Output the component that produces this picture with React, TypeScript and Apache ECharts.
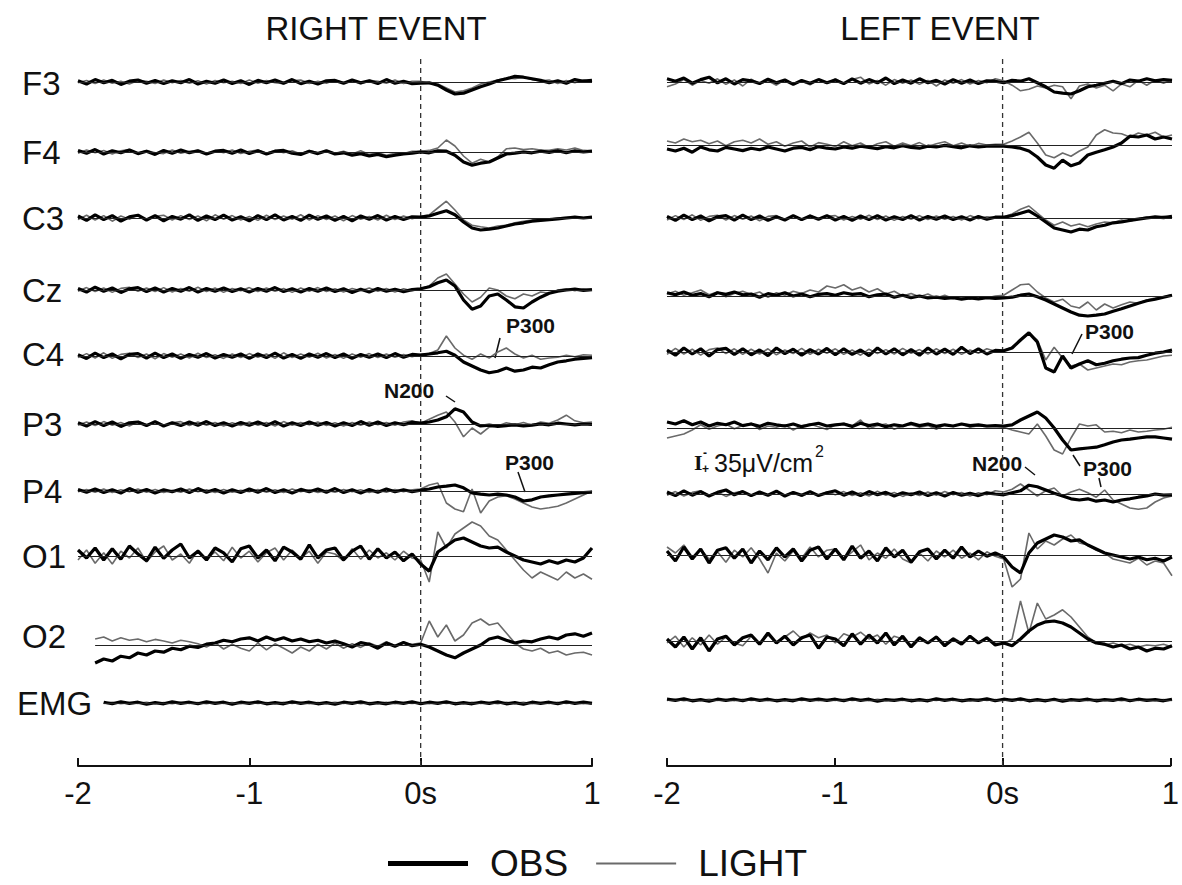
import React, { useEffect, useRef } from "react";
import * as echarts from "echarts";

// ---------- DATA ----------
const TIME = [
  -2, -1.95, -1.9, -1.85, -1.8, -1.75, -1.7, -1.65, -1.6, -1.55,
  -1.5, -1.45, -1.4, -1.35, -1.3, -1.25, -1.2, -1.15, -1.1, -1.05,
  -1, -0.95, -0.9, -0.85, -0.8, -0.75, -0.7, -0.65, -0.6, -0.55,
  -0.5, -0.45, -0.4, -0.35, -0.3, -0.25, -0.2, -0.15, -0.1, -0.05,
  0, 0.05, 0.1, 0.15, 0.2, 0.25, 0.3, 0.35, 0.4, 0.45,
  0.5, 0.55, 0.6, 0.65, 0.7, 0.75, 0.8, 0.85, 0.9, 0.95, 1,
];
const CHANNELS = ["F3", "F4", "C3", "Cz", "C4", "P3", "P4", "O1", "O2", "EMG"];
const X_TICKS = [-2, -1, 0, 1];
const EVENT_T = 0;
const TITLES = ["RIGHT EVENT", "LEFT EVENT"];
const LEGEND = ["OBS", "LIGHT"];

// RIGHT EVENT panel (µV)
const R_F3_OBS = [3,-5,6,-2,4,-6,2,5,-3,4, -4,3,-2,6,-5,2,-3,5,-4,3, -6,4,-2,5,-3,6,-4,2,-5,3, 4,-3,5,-2,3,-4,6,-3,2,-4,
  -3,-2,-8,-20,-30,-28,-20,-12,-5,3, 8,14,12,8,4,-2,3,-3,6,2,4];
const R_F3_LIGHT = [-2,4,-4,5,-3,2,-5,4,2,-4, 5,-2,4,-3,3,-5,4,-2,2,-4, 5,-3,4,-2,-4,3,5,-4,2,-3, 5,-2,3,-5,4,2,-3,5,-4,2,
  2,-4,-5,-15,-25,-22,-15,-5,0,5, 10,8,12,6,3,5,-4,4,-2,5,2];
const R_F4_OBS = [4,-3,6,-5,3,-2,5,-4,2,-6, 4,-3,5,-2,3,-5,2,4,-3,5, -4,3,-5,2,4,-3,-6,2,-4,3, -5,-2,-8,-4,-10,-6,-12,-8,-5,-3,
  0,-2,3,2,-8,-25,-33,-28,-25,-15, -5,-3,0,-2,2,-1,3,-2,3,0,2];
const R_F4_LIGHT = [-3,5,-2,4,-5,3,6,-3,4,-2, -4,5,-3,2,4,-5,3,-2,5,-4, 2,5,-3,4,-2,3,-5,4,-2,3, -3,2,-5,3,-6,-2,-8,-3,-4,2,
  2,4,10,30,15,-10,-28,-18,-25,-12, 8,10,6,8,5,4,8,5,10,4,3];
const R_C3_OBS = [5,-6,8,-4,6,-8,3,7,-5,6, -7,4,-3,8,-6,5,-4,7,-5,3, -7,6,-4,8,-5,4,-6,7,-3,5, -6,4,-7,5,-3,6,-5,4,-4,3,
  2,5,12,18,8,-10,-25,-30,-28,-25, -20,-15,-12,-8,-6,-4,-2,0,2,0,2];
const R_C3_LIGHT = [-4,7,-5,6,-8,5,-3,8,-6,4, 7,-5,6,-4,5,-7,8,-3,6,-5, 4,-6,7,-4,5,-3,8,-5,6,-4, 5,-7,6,-3,4,-5,7,-4,5,-2,
  4,8,25,42,20,-5,-18,-22,-25,-20, -18,-12,-8,-5,-2,-3,0,2,3,1,3];
const R_CZ_OBS = [4,-5,7,-3,5,-6,3,6,-4,5, -5,4,-3,6,-5,4,-3,5,-4,3, -5,4,-3,6,-4,3,-5,4,-3,5, -4,3,-6,2,-5,4,-3,2,-4,1,
  3,8,18,25,10,-25,-48,-40,-15,-10, -25,-42,-45,-30,-18,-8,-3,0,2,-1,1];
const R_CZ_LIGHT = [-3,6,-4,5,-6,4,7,-3,5,-4, 6,-5,4,-3,7,-4,5,-6,4,-2, 6,-4,5,-3,4,-6,5,-3,6,-4, 3,-5,4,-2,5,-3,4,-5,3,-2,
  4,10,30,40,15,-10,-30,-18,5,0, -15,-22,-10,-15,-5,-8,0,3,-2,3,0];
const R_C4_OBS = [3,-6,7,-4,5,-7,4,6,-5,7, -4,5,-6,4,-3,6,-5,4,-3,5, -6,5,-4,7,-5,4,-6,5,-3,6, -4,5,-6,4,-3,5,-4,6,-3,4,
  2,5,8,12,2,-15,-25,-35,-42,-38, -30,-38,-35,-28,-30,-22,-15,-12,-8,-6,-4];
const R_C4_LIGHT = [-4,6,-5,8,-6,4,7,-4,5,-7, 6,-3,5,-5,7,-4,3,-6,5,-4, 6,-3,5,-6,8,-4,5,-3,7,-5, 4,-6,5,-3,6,-4,5,-3,4,-2,
  4,6,15,50,20,2,-8,5,-5,10, 20,5,-5,2,-8,-5,-3,2,-2,3,2];
const R_P3_OBS = [3,-5,6,-4,5,-6,3,5,-4,6, -5,3,-4,5,-3,6,-4,3,-5,4, -3,5,-4,6,-5,3,-4,5,-3,4, -5,3,-4,6,-3,5,-4,3,-2,4,
  2,5,10,18,38,30,5,-5,-3,-6, -4,-2,-5,-3,0,-2,2,0,-2,0,-1];
const R_P3_LIGHT = [-3,5,-4,6,-3,4,-5,6,-2,4, -5,3,6,-4,5,-3,4,-5,3,-4, 5,-3,4,-5,6,-3,4,-2,5,-4, 3,-5,4,-3,5,-2,4,-3,5,8,
  2,12,22,30,5,-32,-10,-25,-8,-5, 3,-2,4,-3,5,2,10,22,8,3,5];
const R_P4_OBS = [4,-3,5,-4,3,-5,6,-3,4,-5, 3,-2,5,-4,6,-3,4,-5,3,-4, 5,-3,6,-4,3,-5,4,-2,5,-3, 6,-4,3,-5,4,-3,5,-2,3,-2,
  2,5,10,12,15,8,-5,-8,-10,-8, -10,-15,-25,-22,-15,-12,-10,-8,-6,-4,-3];
const R_P4_LIGHT = [-2,4,-3,5,-4,3,-2,5,-3,4, -4,2,-3,5,-2,3,-4,4,-3,2, -2,4,-3,3,-4,5,-2,3,-4,2, -3,4,-2,3,-4,2,-3,4,-2,3,
  5,15,20,-30,-45,-52,5,-55,-25,-15, -12,-20,-30,-40,-45,-42,-38,-30,-20,-10,0];
const R_O1_OBS = [15,-5,20,-10,18,-8,25,5,-12,22, -6,15,30,-5,12,-10,20,8,-15,18, 25,-5,15,-12,22,10,-8,28,-5,15, 20,-10,12,25,-8,18,-5,10,-12,5,
  -20,-38,10,25,40,45,35,25,20,22, 10,0,-10,-15,-20,-12,-18,-10,-15,-5,20];
const R_O1_LIGHT = [-10,15,-18,8,-20,12,-5,20,-15,10, 25,-10,5,-18,15,-8,10,-12,22,-5, 12,-15,8,20,-10,15,-5,12,-18,10, 5,-12,18,-8,15,-5,8,-10,12,-5,
  -10,-65,60,20,55,70,85,75,50,40, 15,-10,-35,-55,-40,-50,-60,-40,-55,-45,-58];
const R_O2_OBS = [null,null,-45,-35,-40,-28,-32,-20,-25,-15, -18,-8,-12,-3,-6,2,5,12,8,15, 18,10,20,12,18,10,15,8,12,5, 10,3,-5,6,2,-8,5,-3,6,-2,
  2,-5,-15,-25,-32,-20,-10,0,15,20, 12,5,10,8,15,20,15,25,28,22,30];
const R_O2_LIGHT = [null,null,15,20,10,18,12,15,8,14, 10,5,12,8,3,-5,6,-10,2,-8, -15,5,-12,3,-8,-20,-5,-15,2,-10, 5,-8,3,-6,5,-3,8,-2,5,2,
  5,60,20,50,10,25,55,65,50,55, 30,5,-10,-15,-8,-20,-15,-25,-20,-18,-25];
const R_EMG_OBS = [null,null,null,2,-2,3,-1,2,-3,1, -2,3,-1,2,-2,3,-1,2,-3,2, -1,3,-2,1,-2,3,-1,2,-2,1, -3,2,-1,3,-2,1,-2,2,-1,3,
  -2,2,-1,3,-2,1,-2,2,-1,3, -2,1,-3,2,-1,2,-2,3,-1,2,-1];
const R_EMG_LIGHT = [null,null,null,-1,2,-2,1,-1,2,-2, 1,-2,2,-1,1,-2,2,-1,1,-2, 2,-1,1,-2,2,-1,2,-2,1,-1, 2,-1,2,-2,1,-1,2,-2,1,-1,
  1,-2,2,-1,1,-2,2,-1,1,-2, 2,-1,2,-2,1,-1,2,-1,1,-2,1];

// LEFT EVENT panel (µV)
const L_F3_OBS = [8,2,10,-3,6,12,-2,8,-5,6, 3,-4,7,-2,5,-6,4,-3,6,-2, 5,-4,8,-3,6,-2,10,-4,5,-3, 8,-2,4,-5,6,-3,5,-4,3,2,
  -2,4,2,8,-2,-12,-25,-28,-30,-22, -12,-8,-3,2,-4,5,2,8,3,6,4];
const L_F3_LIGHT = [-12,-5,6,-8,4,-3,8,-6,5,-10, 7,-4,3,-8,6,-5,2,-7,5,-3, 8,-4,6,12,-5,4,-8,6,-3,5, -6,4,-10,5,-3,6,-5,4,-2,8,
  3,-8,-22,-18,-10,-15,-8,-12,-42,-10, -5,-15,-8,-22,-5,-12,4,-8,5,-3,6];
const L_F4_OBS = [-10,-15,-8,-18,-5,-12,-15,-6,-10,-14, -8,-12,-5,-10,-15,-8,-6,-12,-4,-8, -10,-5,-8,-3,-6,-9,-4,-7,-2,-6, -8,-3,-5,-1,-4,-7,-2,-5,-3,-2,
  -3,-5,-8,-15,-30,-50,-58,-38,-52,-45, -25,-18,-12,-5,5,22,20,25,15,20,15];
const L_F4_LIGHT = [10,5,15,8,12,3,10,-2,8,12, 5,15,2,8,-3,5,10,-5,6,2, -4,8,-2,5,-6,3,8,-3,5,-2, 6,-4,3,8,-2,5,-3,4,0,2,
  2,10,20,32,5,-25,-32,-20,-28,-15, -5,25,38,30,28,20,30,25,32,20,25];
const L_C3_OBS = [4,-6,7,-4,5,-7,3,6,-5,7, -4,5,-6,3,-5,6,-4,5,-3,6, -5,4,-6,5,-4,6,-5,3,-4,6, -5,4,-3,5,-4,3,-5,4,-3,2,
  2,6,12,18,5,-10,-25,-30,-35,-28, -30,-22,-18,-12,-10,-6,-3,0,3,1,4];
const L_C3_LIGHT = [-5,6,-4,8,-6,4,7,-5,6,-3, 5,-7,4,6,-4,5,-6,7,-3,4, 6,-5,4,-3,7,-4,5,-6,4,-3, 6,-4,5,-3,4,-5,6,-2,3,1,
  3,10,22,30,12,-5,-18,-10,-20,-15, -22,-15,-10,-12,-5,-8,-2,3,0,4,2];
const L_CZ_OBS = [8,3,10,2,6,-2,8,4,10,3, 5,-3,6,2,8,0,5,-2,4,6, 2,8,4,6,-2,3,5,-3,2,-4, 0,-5,-3,-6,-4,-8,-5,-7,-4,-6,
  -5,-3,2,5,-2,-10,-20,-30,-40,-48, -50,-48,-45,-38,-32,-25,-18,-12,-8,-3,2];
const L_CZ_LIGHT = [5,12,2,8,15,3,10,-2,6,12, 4,10,-3,8,2,12,6,15,10,25, 20,28,15,22,10,18,5,12,0,6, -2,5,-5,2,-6,-3,-8,-2,-5,0,
  2,15,28,30,10,-5,-15,-8,-25,-30, -15,-35,-20,-30,-22,-15,-18,-10,-5,-2,3];
const L_C4_OBS = [5,-8,10,-5,8,-10,6,9,-6,8, -7,5,-9,10,-4,7,-8,6,-5,9, -7,8,-6,5,-9,10,-5,8,-7,6, -8,10,-5,7,-6,12,-4,8,-5,4,
  3,10,30,48,25,-40,-50,-10,-40,-30, -22,-32,-28,-22,-18,-15,-14,-8,-3,0,5];
const L_C4_LIGHT = [-6,9,-5,7,-8,6,10,-4,8,-6, 7,-5,8,-7,5,-4,9,-6,7,-3, 8,-6,5,-8,7,-4,6,-5,9,-3, 6,-5,8,-4,7,-6,5,-3,8,2,
  4,12,28,48,30,-20,12,-15,-35,-30, -45,-40,-35,-30,-32,-25,-22,-20,-15,-10,-8];
const L_P3_OBS = [15,10,18,8,15,5,12,8,15,6, 10,4,12,8,5,10,3,8,12,5, 8,10,4,12,6,10,3,8,5,12, 6,10,4,8,5,10,6,8,5,6,
  5,8,20,30,40,25,0,-30,-55,-52, -50,-48,-42,-35,-30,-28,-25,-22,-22,-25,-28];
const L_P3_LIGHT = [-25,-20,-15,-5,8,-3,5,10,-2,6, 12,-4,5,2,8,-5,6,10,3,-4, 8,12,5,20,-2,6,10,-3,5,8, 2,6,-3,8,4,10,2,6,3,5,
  2,-5,-10,-15,10,-20,-55,-65,-25,10, 5,8,-10,-8,-12,-5,-10,-8,-5,-3,2];
const L_P4_OBS = [5,-4,8,-3,6,-5,4,10,-2,6, -4,5,-3,7,-5,4,-3,6,-4,3, 8,-3,5,-4,6,-2,4,-5,3,-2, 5,-4,3,-5,4,-3,2,-4,3,0,
  -2,3,8,22,18,10,2,-5,-12,-15, -12,-18,-15,-20,-15,-12,-8,-5,0,-3,-2];
const L_P4_LIGHT = [-3,6,-5,4,8,-4,5,-6,3,7, -5,4,-2,6,-4,5,-6,4,-3,5, -2,6,-4,3,-5,7,-3,4,-6,3, -4,5,-3,6,-2,4,-5,3,-2,8,
  5,12,25,10,-5,8,15,-5,5,12, 3,-8,10,-15,-25,-35,-38,-35,-20,-10,-5];
const L_O1_OBS = [10,-15,20,-10,15,-20,12,18,-8,15, -20,10,-12,18,-5,15,-15,12,20,-10, 15,-12,22,-8,10,-15,18,-5,12,-18, 8,15,-10,12,-8,20,-5,10,-3,5,
  -5,-30,-45,5,30,40,50,45,35,38, 25,15,5,0,-5,-10,-5,-12,-8,-15,-5];
const L_O1_LIGHT = [20,5,25,-5,15,-10,8,-18,12,-5, 18,-10,-45,5,-15,10,-8,20,-5,12, 15,-10,8,25,-12,5,-8,15,-10,-20, 5,-15,10,-5,12,-8,5,-12,8,-3,
  -10,-80,-60,55,15,35,25,40,50,30, 25,12,5,-10,-15,-20,-8,-25,-15,-20,-52];
const L_O2_OBS = [5,-15,10,-20,8,-25,5,12,-10,8, 15,-8,20,-5,12,-10,8,15,-18,10, 5,-12,18,-8,15,-5,20,-10,12,-15, 8,-5,10,-12,5,-8,12,-5,8,-10,
  -5,-12,5,25,40,48,50,45,35,20, 5,-5,-8,-15,-10,-20,-15,-25,-18,-20,-12];
const L_O2_LIGHT = [-5,12,-15,8,-10,15,-8,10,-5,-12, 12,-8,15,-5,10,25,5,20,8,15, -5,18,10,22,5,15,-8,12,5,-10, 10,-5,12,-8,8,-5,10,-2,5,-5,
  -8,5,100,20,95,55,65,78,60,35, 10,-5,-10,-5,-12,-8,-15,-10,-12,-8,-15];
const L_EMG_OBS = [2,-1,3,-2,1,-3,2,-1,2,-2, 3,-1,2,-2,1,-2,3,-1,2,-1, 2,-2,3,-1,2,-3,1,-1,2,-2, 1,-2,3,-1,2,-2,1,-1,3,-2,
  2,-1,3,-2,1,-2,2,-3,1,-1, 2,-2,1,-1,3,-2,2,-1,1,-2,2];
const L_EMG_LIGHT = [-1,2,-2,1,-1,2,-1,1,-2,2, -1,1,-2,1,-1,2,-1,2,-2,1, -1,2,-1,1,-2,2,-1,1,-1,2, -2,1,-1,2,-1,1,-2,2,-1,1,
  -1,2,-1,1,-2,1,-1,2,-1,1, -2,2,-1,1,-2,1,-1,2,-1,1,-1];

const RIGHT_EVENT_OBS = [R_F3_OBS, R_F4_OBS, R_C3_OBS, R_CZ_OBS, R_C4_OBS, R_P3_OBS, R_P4_OBS, R_O1_OBS, R_O2_OBS, R_EMG_OBS];
const RIGHT_EVENT_LIGHT = [R_F3_LIGHT, R_F4_LIGHT, R_C3_LIGHT, R_CZ_LIGHT, R_C4_LIGHT, R_P3_LIGHT, R_P4_LIGHT, R_O1_LIGHT, R_O2_LIGHT, R_EMG_LIGHT];
const LEFT_EVENT_OBS = [L_F3_OBS, L_F4_OBS, L_C3_OBS, L_CZ_OBS, L_C4_OBS, L_P3_OBS, L_P4_OBS, L_O1_OBS, L_O2_OBS, L_EMG_OBS];
const LEFT_EVENT_LIGHT = [L_F3_LIGHT, L_F4_LIGHT, L_C3_LIGHT, L_CZ_LIGHT, L_C4_LIGHT, L_P3_LIGHT, L_P4_LIGHT, L_O1_LIGHT, L_O2_LIGHT, L_EMG_LIGHT];

// ---------- LAYOUT ----------
const FONT = "'Liberation Sans', Arial, Helvetica, sans-serif";
const OBS_COLOR = "#000";
const LIGHT_COLOR = "#6a6a6a";
const PANELS = [
  { left: 78, width: 514, titleX: 376, base: [82, 152, 218, 290, 356, 424, 491, 556, 645, 703], obs: RIGHT_EVENT_OBS, light: RIGHT_EVENT_LIGHT },
  { left: 667, width: 505, titleX: 940, base: [82, 145, 218, 296, 352, 428, 494, 555, 641, 700], obs: LEFT_EVENT_OBS, light: LEFT_EVENT_LIGHT },
];
const LABEL_Y = [83, 152, 218, 290, 354, 424, 491, 556, 636, 703];
const CH_H = 120; // px, spans ±150 µV
const Y_RANGE = 150;
const AXIS_TOP = 58;
const AXIS_Y = 766;
// legend line icons: a horizontal band inside an 80x30 box (thick for OBS, thin for LIGHT)
const ICON_THICK = "path://M0,12.5H80V17.5H0Z M0,0H0.01V0.01H0Z M0,29.99H0.01V30H0Z";
const ICON_THIN = "path://M0,14H80V16H0Z M0,0H0.01V0.01H0Z M0,29.99H0.01V30H0Z";

function pairs(vals: (number | null)[]) {
  return TIME.map((t, i) => [t, vals[i] == null ? "-" : vals[i]]);
}
function firstTime(vals: (number | null)[]) {
  const i = vals.findIndex((v) => v != null);
  return TIME[i < 0 ? 0 : i];
}

function buildOption() {
  const grid: any[] = [];
  const xAxis: any[] = [];
  const yAxis: any[] = [];
  const series: any[] = [];
  const xMin = X_TICKS[0];
  const xMax = X_TICKS[X_TICKS.length - 1];

  PANELS.forEach((p) => {
    const gi = grid.length;
    grid.push({ left: p.left, width: p.width, top: AXIS_TOP, height: AXIS_Y - AXIS_TOP });
    xAxis.push({
      gridIndex: gi, type: "value", min: xMin, max: xMax, interval: 1,
      axisLine: { show: true, lineStyle: { color: "#111", width: 2 } },
      axisTick: { show: true, inside: true, length: 8, lineStyle: { color: "#111", width: 2 } },
      axisLabel: { fontSize: 31, color: "#111", fontFamily: FONT, margin: 12,
        formatter: (v: number) => (v === 0 ? "0s" : String(v)) },
      splitLine: { show: false },
    });
    yAxis.push({ gridIndex: gi, type: "value", min: 0, max: 1, show: false });
    series.push({
      type: "line", name: "onset", xAxisIndex: gi, yAxisIndex: gi, silent: true, symbol: "none",
      data: [[EVENT_T, 0], [EVENT_T, 1]],
      lineStyle: { color: "#333", width: 1.3, type: [5, 4] }, z: 1,
    });

    CHANNELS.forEach((ch, ci) => {
      const g = grid.length;
      grid.push({ left: p.left, width: p.width, top: p.base[ci] - CH_H / 2, height: CH_H });
      xAxis.push({ gridIndex: g, type: "value", min: xMin, max: xMax, show: false });
      yAxis.push({ gridIndex: g, type: "value", min: -Y_RANGE, max: Y_RANGE, show: false });
      const t0 = firstTime(p.obs[ci]);
      series.push({
        type: "line", name: "LIGHT", xAxisIndex: g, yAxisIndex: g, symbol: "none", clip: false,
        data: pairs(p.light[ci]), lineStyle: { color: LIGHT_COLOR, width: 1.6 }, itemStyle: { color: LIGHT_COLOR }, z: 3,
        markLine: {
          silent: true, symbol: "none", label: { show: false },
          lineStyle: { color: "#222", width: 1, type: "solid" },
          data: [[{ coord: [t0, 0] }, { coord: [xMax, 0] }]],
        },
      });
      series.push({
        type: "line", name: "OBS", xAxisIndex: g, yAxisIndex: g, symbol: "none", clip: false,
        data: pairs(p.obs[ci]), lineStyle: { color: OBS_COLOR, width: 3.2 }, itemStyle: { color: OBS_COLOR }, z: 4,
      });
    });
  });

  const graphic: any[] = [];
  PANELS.forEach((p, pi) => {
    graphic.push({ type: "text", x: p.titleX, y: 28, style: { text: TITLES[pi], fill: "#111", font: `33px ${FONT}`, textAlign: "center", textVerticalAlign: "middle" } });
  });
  CHANNELS.forEach((ch, ci) => {
    graphic.push({ type: "text", x: ch === "EMG" ? 17 : 22, y: LABEL_Y[ci], style: { text: ch, fill: "#111", font: `33px ${FONT}`, textAlign: "left", textVerticalAlign: "middle" } });
  });
  const ann = (text: string, x: number, y: number) =>
    graphic.push({ type: "text", x, y, style: { text, fill: "#111", font: `bold 21px ${FONT}`, textAlign: "left", textVerticalAlign: "middle" } });
  const tick = (x1: number, y1: number, x2: number, y2: number) =>
    graphic.push({ type: "line", shape: { x1, y1, x2, y2 }, style: { stroke: "#111", lineWidth: 1.5 } });
  ann("P300", 506, 325); tick(500, 338, 495, 358);
  ann("N200", 384, 390); tick(446, 396, 455, 402);
  ann("P300", 505, 462); tick(518, 472, 525, 492);
  ann("P300", 1085, 331); tick(1082, 334, 1072, 354);
  ann("N200", 972, 463); tick(1025, 467, 1035, 475);
  ann("P300", 1083, 468); tick(1073, 455, 1080, 466); tick(1099, 478, 1101, 487);
  // scale bar
  graphic.push({ type: "text", x: 694, y: 462, style: { text: "I", fill: "#111", font: `bold 22px 'Liberation Serif', serif`, textAlign: "left", textVerticalAlign: "middle" } });
  graphic.push({ type: "text", x: 703, y: 453, style: { text: "-", fill: "#111", font: `bold 12px ${FONT}`, textAlign: "left", textVerticalAlign: "middle" } });
  graphic.push({ type: "text", x: 702, y: 469, style: { text: "+", fill: "#111", font: `bold 12px ${FONT}`, textAlign: "left", textVerticalAlign: "middle" } });
  graphic.push({ type: "text", x: 714, y: 463, style: { text: "35μV/cm", fill: "#111", font: `25px ${FONT}`, textAlign: "left", textVerticalAlign: "middle" } });
  graphic.push({ type: "text", x: 815, y: 451, style: { text: "2", fill: "#111", font: `16px ${FONT}`, textAlign: "left", textVerticalAlign: "middle" } });

  return {
    animation: false,
    backgroundColor: "#fff",
    grid, xAxis, yAxis, series, graphic,
    legend: {
      data: [
        { name: LEGEND[0], icon: ICON_THICK, itemStyle: { color: OBS_COLOR, borderWidth: 0 } },
        { name: LEGEND[1], icon: ICON_THIN, itemStyle: { color: LIGHT_COLOR, borderWidth: 0 } },
      ],
      left: 383, top: 840, itemWidth: 82, itemHeight: 30, itemGap: 28, selectedMode: false,
      textStyle: { fontSize: 37, color: "#111", fontFamily: FONT, padding: [0, 0, 0, 16] },
    },
  };
}

export default function App() {
  const ref = useRef<HTMLDivElement>(null);
  useEffect(() => {
    if (!ref.current) return;
    const chart = echarts.init(ref.current, undefined, { renderer: "svg" });
    chart.setOption(buildOption() as any);
    return () => chart.dispose();
  }, []);
  return <div ref={ref} style={{ position: "fixed", left: 0, top: 0, width: 1182, height: 885, background: "#fff" }} />;
}
